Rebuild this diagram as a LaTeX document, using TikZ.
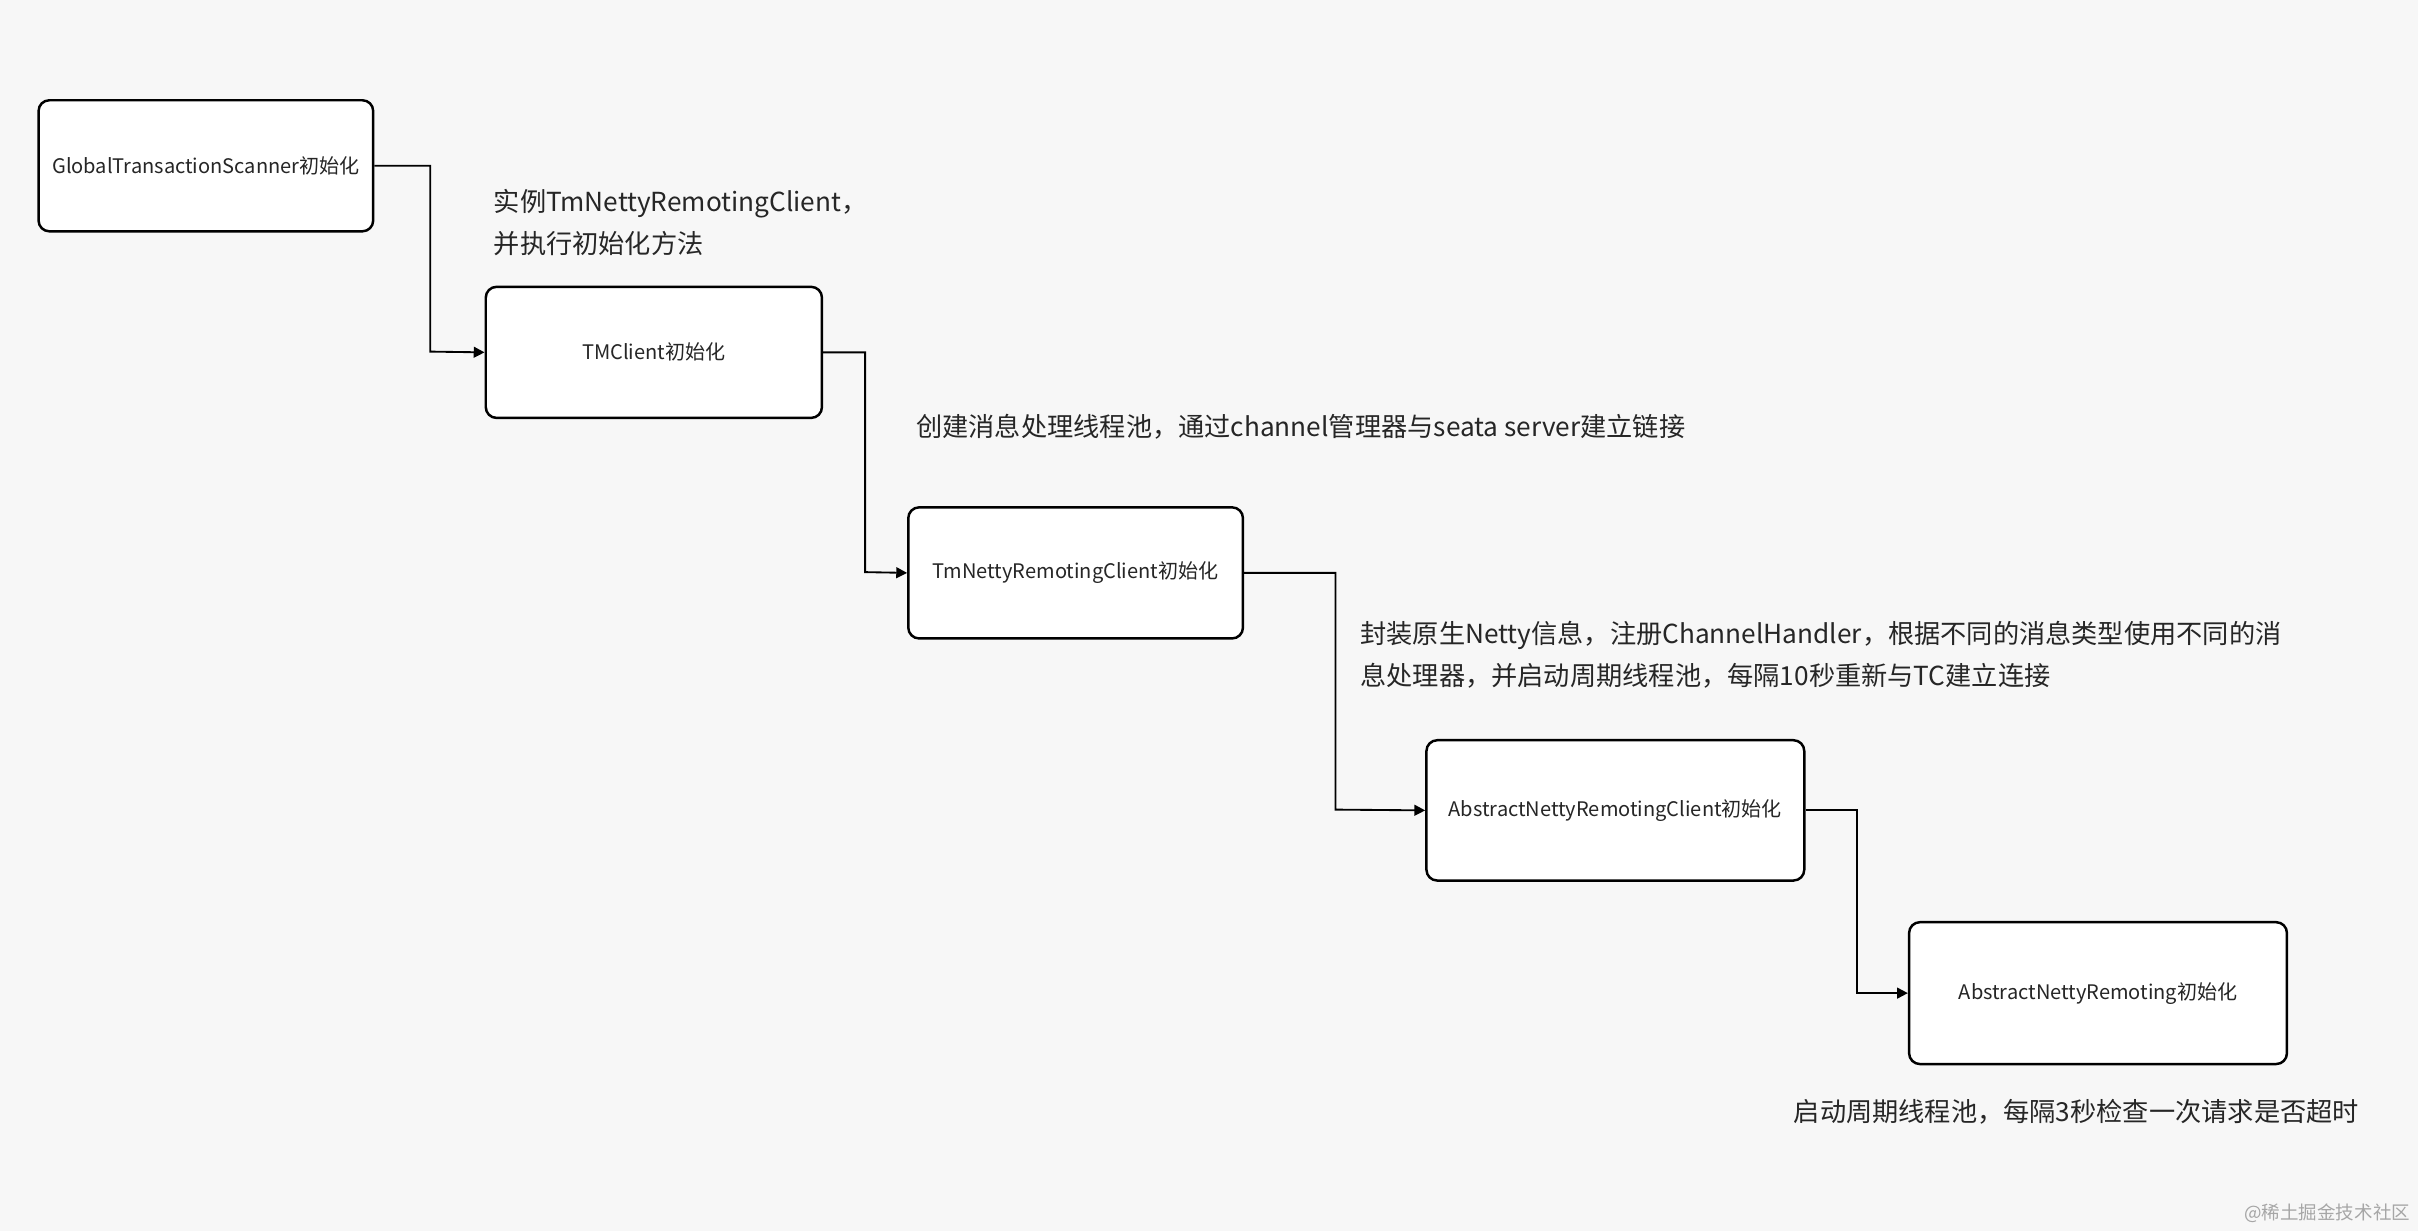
\documentclass[tikz,border=0pt]{standalone}
\usepackage{fontspec}
\setmainfont{Noto Sans CJK SC}
\usetikzlibrary{arrows.meta}
\begin{document}
\begin{tikzpicture}[x=1pt,y=-1pt,
  box/.style={draw=black,line width=1.6pt,rounded corners=7pt,fill=white,inner sep=0pt,font=\fontsize{13}{15}\selectfont,text=black!85},
  conn/.style={draw=black,line width=1.2pt,-{Triangle[length=7pt,width=7pt]}},
  note/.style={anchor=west,inner sep=0pt,font=\fontsize{17}{20}\selectfont,text=black!85}]
\fill[black!3] (0,0) rectangle (1568,798);
\useasboundingbox (0,0) rectangle (1568,798);
\node[box,minimum width=217pt,minimum height=85pt] (a) at (133.5,107.5) {GlobalTransactionScanner初始化};
\node[box,minimum width=218pt,minimum height=85pt] (b) at (424,228.5) {TMClient初始化};
\node[box,minimum width=217pt,minimum height=85pt] (c) at (697.5,371.5) {TmNettyRemotingClient初始化};
\node[box,minimum width=245pt,minimum height=91pt] (d) at (1047.5,525.5) {AbstractNettyRemotingClient初始化};
\node[box,minimum width=245pt,minimum height=92pt] (e) at (1360.5,644) {AbstractNettyRemoting初始化};
\draw[conn] (a.east) -| (279,228) -- (b.west);
\draw[conn] (b.east) -| (561,371) -- (c.west);
\draw[conn] (c.east) -| (866,525) -- (d.west);
\draw[conn] (d.east) -| (1204,644) -- (e.west);
\node[note] (t1) at (320,132) {实例TmNettyRemotingClient，};
\node[note] (t2) at (320,158) {并执行初始化方法};
\node[note] (t3) at (594,277) {创建消息处理线程池，通过channel管理器与seata server建立链接};
\node[note] (t4) at (882,412) {封装原生Netty信息，注册ChannelHandler，根据不同的消息类型使用不同的消};
\node[note] (t5) at (882,438) {息处理器，并启动周期线程池，每隔10秒重新与TC建立连接};
\node[note] (t6) at (1163,721) {启动周期线程池，每隔3秒检查一次请求是否超时};
\node[anchor=east,inner sep=0pt,font=\fontsize{12}{14}\selectfont,text=black!35] (w) at (1563,787) {@稀土掘金技术社区};
\end{tikzpicture}
\end{document}
